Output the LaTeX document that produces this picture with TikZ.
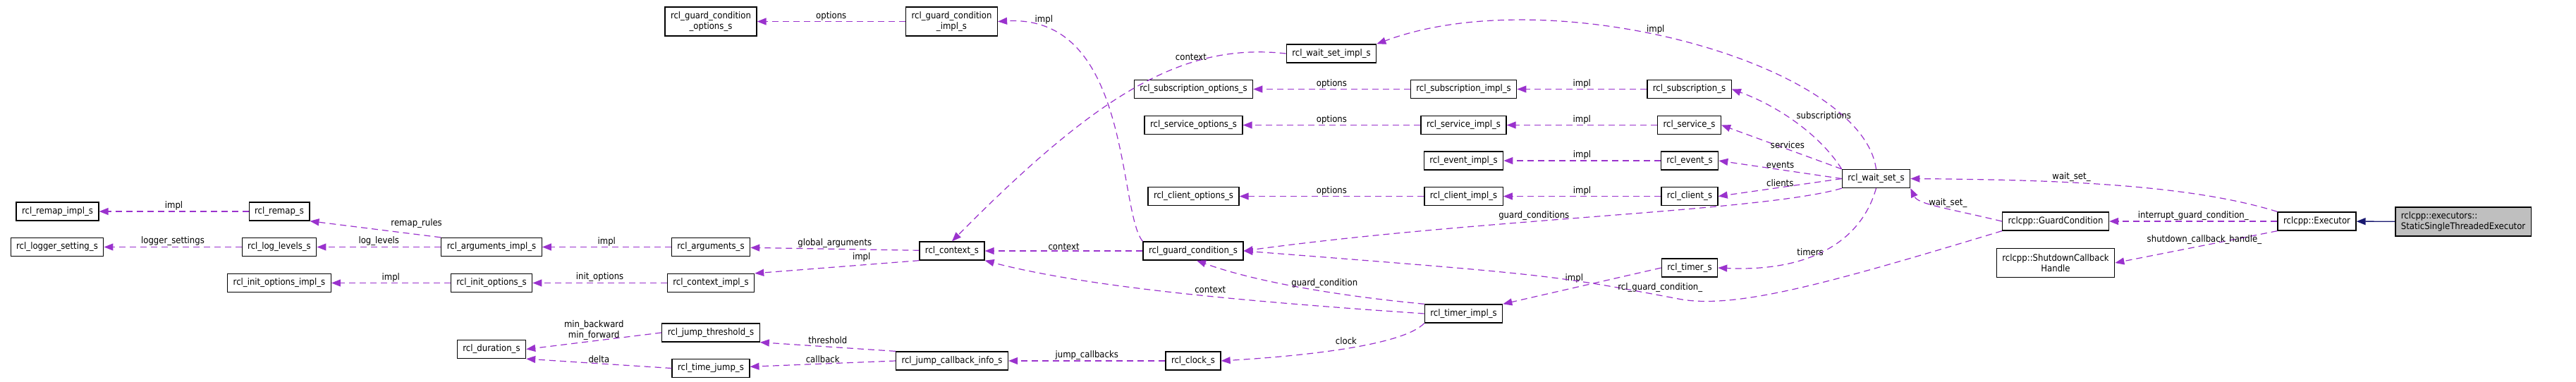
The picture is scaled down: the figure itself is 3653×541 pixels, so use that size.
\documentclass[tikz,border=0pt]{standalone}
\usepackage{fontspec}
\setmainfont{DejaVu Sans Condensed}
\usetikzlibrary{arrows.meta}
\definecolor{depcol}{HTML}{9A32CD}
\definecolor{inhcol}{HTML}{191970}
\tikzset{
  box/.style={draw=black, line width=1.3pt, fill=white, text=black, inner xsep=8pt, inner ysep=0pt,
    minimum height=26pt, font=\fontsize{13}{15}\selectfont, align=center},
  dep/.style={depcol, dashed, dash pattern=on 9pt off 6pt, line width=1.2pt,
    -{Triangle[length=13pt,width=10pt]}},
  lbl/.style={text=black, font=\fontsize{13}{15}\selectfont, inner sep=1pt, align=center},
}
\begin{document}
\begin{tikzpicture}[x=1pt,y=-1pt]
\useasboundingbox (0,0) rectangle (3653,541);
% nodes
\node[box] (remapimpl) at (81.5,300) {rcl\_remap\_impl\_s};
\node[box] (logger) at (81,350.5) {rcl\_logger\_setting\_s};
\node[box] (remap) at (396,300) {rcl\_remap\_s};
\node[box] (loglevels) at (396,350.5) {rcl\_log\_levels\_s};
\node[box] (initoptimpl) at (396,401.5) {rcl\_init\_options\_impl\_s};
\node[box] (argsimpl) at (697,350.5) {rcl\_arguments\_impl\_s};
\node[box] (initopt) at (697,401.5) {rcl\_init\_options\_s};
\node[box] (duration) at (697,495.5) {rcl\_duration\_s};
\node[box, minimum height=41pt] (gcopt) at (1008,30.5) {rcl\_guard\_condition\\\_options\_s};
\node[box, minimum height=41pt] (gcimpl) at (1349.5,30.5) {rcl\_guard\_condition\\\_impl\_s};
\node[box] (args) at (1008,350.5) {rcl\_arguments\_s};
\node[box] (ctximpl) at (1008,401.5) {rcl\_context\_impl\_s};
\node[box] (threshold) at (1008,472) {rcl\_jump\_threshold\_s};
\node[box] (timejump) at (1008,522.5) {rcl\_time\_jump\_s};
\node[box] (ctx) at (1350,356) {rcl\_context\_s};
\node[box] (jumpcb) at (1350,512) {rcl\_jump\_callback\_info\_s};
\node[box] (subopt) at (1692.5,126.5) {rcl\_subscription\_options\_s};
\node[box] (srvopt) at (1692.5,177.5) {rcl\_service\_options\_s};
\node[box] (cliopt) at (1692.5,278.5) {rcl\_client\_options\_s};
\node[box] (gc) at (1692,356) {rcl\_guard\_condition\_s};
\node[box] (clock) at (1692,512) {rcl\_clock\_s};
\node[box] (wsimpl) at (1888,76) {rcl\_wait\_set\_impl\_s};
\node[box] (subimpl) at (2075.5,126.5) {rcl\_subscription\_impl\_s};
\node[box] (srvimpl) at (2075.5,177.5) {rcl\_service\_impl\_s};
\node[box] (evimpl) at (2075.5,228) {rcl\_event\_impl\_s};
\node[box] (cliimpl) at (2075.5,278.5) {rcl\_client\_impl\_s};
\node[box] (timerimpl) at (2075.5,445) {rcl\_timer\_impl\_s};
\node[box] (sub) at (2395.5,126.5) {rcl\_subscription\_s};
\node[box] (srv) at (2395.5,177.5) {rcl\_service\_s};
\node[box] (ev) at (2396,228) {rcl\_event\_s};
\node[box] (cli) at (2396,278.5) {rcl\_client\_s};
\node[box] (timer) at (2396,380) {rcl\_timer\_s};
\node[box] (ws) at (2660.5,253.5) {rcl\_wait\_set\_s};
\node[box] (rgc) at (2915,314) {rclcpp::GuardCondition};
\node[box, minimum height=41pt] (shutdown) at (2915,373) {rclcpp::ShutdownCallback\\Handle};
\node[box] (executor) at (3285.5,314) {rclcpp::Executor};
\node[box, fill=gray!50, minimum height=41pt, align=left] (static) at (3493,314.5) {rclcpp::executors::\\StaticSingleThreadedExecutor};

% connectors
\draw[dep] (remap) -- node[lbl, above] {impl} (remapimpl);
\draw[dep] (argsimpl.north west) -- node[lbl, above right=2pt, pos=0.4] {remap\_rules} (remap.south east);
\draw[dep] (loglevels) -- node[lbl, above] {logger\_settings} (logger);
\draw[dep] (argsimpl) -- node[lbl, above] {log\_levels} (loglevels);
\draw[dep] (args) -- node[lbl, above] {impl} (argsimpl);
\draw[dep] (initopt) -- node[lbl, above] {impl} (initoptimpl);
\draw[dep] (ctximpl) -- node[lbl, above] {init\_options} (initopt);
\draw[dep] (threshold.west) -- node[lbl, above, pos=0.5] {min\_backward\\min\_forward} (duration.east);
\draw[dep] (timejump.west) -- node[lbl, above] {delta} (duration.south east);
\draw[dep] (gcimpl) -- node[lbl, above] {options} (gcopt);
\draw[dep] (gc.north west) .. controls (1585,300) and (1605,20) .. node[lbl, pos=0.9, above right] {impl} (gcimpl.east);
\draw[dep] (wsimpl.west) .. controls (1680,60) and (1560,130) .. node[lbl, pos=0.25, left=6pt] {context} (ctx.north);
\draw[dep] (ctx) -- node[lbl, above] {global\_arguments} (args);
\draw[dep] (ctx.south west) -- node[lbl, above=3pt, pos=0.35] {impl} (ctximpl.north east);
\draw[dep] (gc) -- node[lbl, above] {context} (ctx);
\draw[dep] (timerimpl.west) .. controls (1800,430) and (1550,410) .. node[lbl, above=3pt, pos=0.45] {context} (ctx.south east);
\draw[dep] (jumpcb.north west) -- node[lbl, above=3pt, pos=0.5] {threshold} (threshold.south east);
\draw[dep] (jumpcb.west) -- node[lbl, above] {callback} (timejump);
\draw[dep] (clock) -- node[lbl, above] {jump\_callbacks} (jumpcb);
\draw[dep] (timerimpl.south west) .. controls (1990,490) and (1850,505) .. node[lbl, above=4pt, pos=0.5] {clock} (clock.east);
\draw[dep] (timerimpl.north west) .. controls (1900,420) and (1780,400) .. node[lbl, above=3pt, pos=0.4] {guard\_condition} (gc.-70);
\draw[dep] (subimpl) -- node[lbl, above] {options} (subopt);
\draw[dep] (srvimpl) -- node[lbl, above] {options} (srvopt);
\draw[dep] (cliimpl) -- node[lbl, above] {options} (cliopt);
\draw[dep] (sub) -- node[lbl, above] {impl} (subimpl);
\draw[dep] (srv) -- node[lbl, above] {impl} (srvimpl);
\draw[dep] (ev) -- node[lbl, above] {impl} (evimpl);
\draw[dep] (cli) -- node[lbl, above] {impl} (cliimpl);
\draw[dep] (ws.north) .. controls (2640,90) and (2200,-30) .. node[lbl, pos=0.55, above] {impl} (wsimpl.north east);
\draw[dep] (ws.north west) .. controls (2580,190) and (2520,150) .. node[lbl, pos=0.5, above right] {subscriptions} (sub.east);
\draw[dep] (ws.north west) -- node[lbl, above, pos=0.45] {services} (srv.east);
\draw[dep] (ws.west) -- node[lbl, above] {events} (ev.east);
\draw[dep] (ws.west) -- node[lbl, above] {clients} (cli.east);
\draw[dep] (ws.south west) .. controls (2500,300) and (2100,310) .. node[lbl, above, pos=0.6] {guard\_conditions} (gc.east);
\draw[dep] (ws.south) .. controls (2640,340) and (2570,386) .. node[lbl, above, pos=0.6] {timers} (timer.east);
\draw[dep] (timer.west) -- node[lbl, above=5pt, pos=0.55] {impl} (timerimpl.north east);
\draw[dep] (rgc.south west) .. controls (2600,400) and (2460,440) .. (2380,424) .. controls (2200,390) .. node[lbl, pos=0.05, above=3pt] {rcl\_guard\_condition\_} (gc.east);
\draw[dep] (rgc.west) .. controls (2760,295) and (2720,290) .. node[lbl, above, pos=0.4] {wait\_set\_} (ws.south east);
\draw[dep] (executor.north west) .. controls (3100,260) and (2900,255) .. node[lbl, above, pos=0.6] {wait\_set\_} (ws.east);
\draw[dep] (executor) -- node[lbl, above] {interrupt\_guard\_condition\_} (rgc);
\draw[dep] (executor.south west) -- node[lbl, above, pos=0.45] {shutdown\_callback\_handle\_} (shutdown.east);
\draw[inhcol, line width=1.4pt, -{Triangle[length=13pt,width=10pt]}] (static) -- (executor);
\end{tikzpicture}
\end{document}
